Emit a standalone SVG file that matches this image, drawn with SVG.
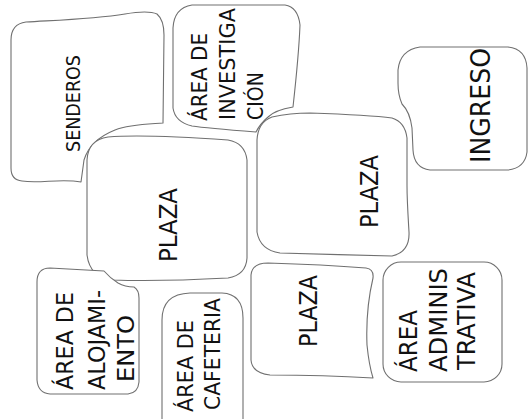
<svg xmlns="http://www.w3.org/2000/svg" width="530" height="419" viewBox="0 0 530 419">
<style>
.b{fill:#fff;stroke:#707070;stroke-width:1.1;stroke-linejoin:round}
.t{font-family:"DejaVu Sans",Verdana,sans-serif;fill:#111}
</style>
<rect width="530" height="419" fill="#fff"/>
<g id="senderos">
<path class="b" d="M 11 40 Q 11 24 26 22 C 60 20 95 19 125 14 Q 148 10 157 14 Q 164 20 164 35 L 163 123 C 150 124 130 124 115 130 Q 90 140 84 160 L 81 182 C 60 178 40 184 22 181 Q 11 180 11 168 Z"/>
<text class="t" font-size="19" textLength="97" lengthAdjust="spacingAndGlyphs" transform="translate(80,152) rotate(-90)">SENDEROS</text>
</g>
<g id="area-investigacion">
<path class="b" d="M 173 28 Q 174 8 192 5 L 285 5 Q 298 7 300 25 C 299 50 296 80 293 107 Q 275 110 268 117 Q 260 124 256 132 C 230 130 205 128 192 126 Q 175 122 173 108 Z"/>
<text class="t" font-size="21" textLength="88" lengthAdjust="spacingAndGlyphs" transform="translate(207,121) rotate(-90)">ÁREA DE</text>
<text class="t" font-size="21" textLength="112" lengthAdjust="spacingAndGlyphs" transform="translate(235,120) rotate(-90)">INVESTIGA</text>
<text class="t" font-size="21" textLength="48" lengthAdjust="spacingAndGlyphs" transform="translate(263,120) rotate(-90)">CIÓN</text>
</g>
<g id="plaza-1">
<path class="b" d="M 87 160 Q 88 140 108 137 C 140 134 200 138 228 140 Q 245 143 247 160 L 247 258 Q 246 275 228 278 C 190 280 140 281 113 280 Q 90 278 87 255 Z"/>
<text class="t" font-size="24" textLength="74" lengthAdjust="spacingAndGlyphs" transform="translate(177,262) rotate(-90)">PLAZA</text>
</g>
<g id="plaza-2">
<path class="b" d="M 257 140 Q 258 122 272 117 Q 290 113 310 113 C 340 114 370 115 392 118 Q 405 122 407 138 L 407 185 C 407 200 408 215 409 232 Q 410 252 392 256 C 360 255 310 254 280 253 Q 260 250 257 232 Z"/>
<text class="t" font-size="24" textLength="73" lengthAdjust="spacingAndGlyphs" transform="translate(378,228) rotate(-90)">PLAZA</text>
</g>
<g id="ingreso">
<path class="b" d="M 398 70 Q 400 50 420 47 L 508 47 Q 526 49 527 68 L 527 152 Q 525 168 508 170 L 430 170 Q 414 168 413 150 L 412 128 Q 410 112 402 104 Q 398 95 398 83 Z"/>
<text class="t" font-size="26" textLength="115" lengthAdjust="spacingAndGlyphs" transform="translate(490,163) rotate(-90)">INGRESO</text>
</g>
<g id="area-alojamiento">
<path class="b" d="M 37 282 Q 37 268 50 268 L 104 271 Q 110 278 118 283 Q 125 287 134 287 Q 139 290 139 298 L 139 382 Q 138 393 128 394 L 50 394 Q 38 393 37 380 Z"/>
<text class="t" font-size="23" textLength="98" lengthAdjust="spacingAndGlyphs" transform="translate(73,390) rotate(-90)">ÁREA DE</text>
<text class="t" font-size="23" textLength="100" lengthAdjust="spacingAndGlyphs" transform="translate(105,390) rotate(-90)">ALOJAMI-</text>
<text class="t" font-size="23" textLength="67" lengthAdjust="spacingAndGlyphs" transform="translate(134,382) rotate(-90)">ENTO</text>
</g>
<g id="area-cafeteria">
<path class="b" d="M 162 320 Q 162 294 190 293 L 222 293 Q 243 294 243 318 L 243 425 L 162 425 Z"/>
<text class="t" font-size="22" textLength="92" lengthAdjust="spacingAndGlyphs" transform="translate(193,412) rotate(-90)">ÁREA DE</text>
<text class="t" font-size="22" textLength="112" lengthAdjust="spacingAndGlyphs" transform="translate(220,410) rotate(-90)">CAFETERIA</text>
</g>
<g id="plaza-3">
<path class="b" d="M 251 275 Q 252 263 268 263 C 300 264 340 266 366 268 Q 374 269 373 278 C 369 295 366 320 367 345 Q 369 365 373 378 C 340 376 300 375 270 375 Q 252 373 251 360 Z"/>
<text class="t" font-size="24" textLength="72" lengthAdjust="spacingAndGlyphs" transform="translate(317,347) rotate(-90)">PLAZA</text>
</g>
<g id="area-administrativa">
<rect class="b" x="383" y="262" width="119" height="120" rx="18"/>
<text class="t" font-size="24" textLength="62" lengthAdjust="spacingAndGlyphs" transform="translate(417,372) rotate(-90)">ÁREA</text>
<text class="t" font-size="24" textLength="104" lengthAdjust="spacingAndGlyphs" transform="translate(447,372) rotate(-90)">ADMINIS</text>
<text class="t" font-size="24" textLength="98" lengthAdjust="spacingAndGlyphs" transform="translate(475,370) rotate(-90)">TRATIVA</text>
</g>
<g id="connectors"/>
</svg>
